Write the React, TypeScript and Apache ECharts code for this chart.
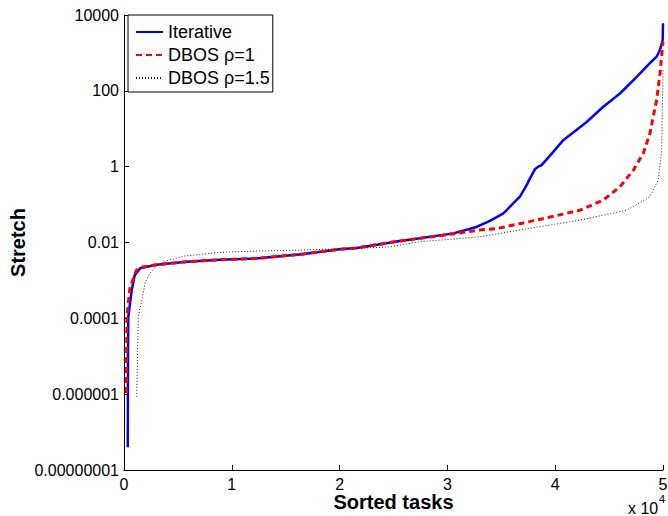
import React, { useEffect, useRef } from "react";
import * as echarts from "echarts";

const xTicks = [0, 10000, 20000, 30000, 40000, 50000];
const seriesNames = ["Iterative", "DBOS ρ=1", "DBOS ρ=1.5"];

const iterTasks = [350, 370, 400, 714, 1000, 1500, 3000, 5800, 8900, 12200, 16500, 20000, 21600, 25600, 27450, 30550, 32700, 33950, 35200, 36100, 36730, 37350, 37660, 38120, 38430, 38740, 39820, 40750, 42920, 44460, 46010, 47560, 48790, 49410, 49720, 49970, 50000];
const iterStretch = [4e-8, 1e-5, 1.1e-4, 5.5e-4, 1.38e-3, 2.1e-3, 2.6e-3, 3.1e-3, 3.5e-3, 3.8e-3, 4.9e-3, 6.6e-3, 7.2e-3, 0.011, 0.0129, 0.0174, 0.0257, 0.0372, 0.0589, 0.107, 0.162, 0.324, 0.49, 0.85, 1.0, 1.1, 2.45, 5.0, 15.1, 38, 85, 234, 537, 794, 1200, 2190, 6030];

const rho1Tasks = [220, 240, 270, 550, 1150, 1500, 3000, 5800, 8900, 12200, 16500, 20000, 21600, 25600, 27450, 29300, 33000, 34600, 38280, 42300, 44460, 46010, 47250, 48170, 48790, 49100, 49410, 49720, 50000];
const rho1Stretch = [1.07e-6, 1e-5, 1.1e-4, 6.3e-4, 1.86e-3, 2.2e-3, 2.6e-3, 3.1e-3, 3.5e-3, 3.8e-3, 4.9e-3, 6.6e-3, 7.2e-3, 0.011, 0.0129, 0.0151, 0.0214, 0.0234, 0.039, 0.071, 0.132, 0.295, 0.81, 2.24, 7.6, 21, 57, 288, 2000];

const rho15Tasks = [1180, 1250, 1330, 1650, 1950, 2400, 3000, 4000, 5600, 8900, 12800, 16200, 20000, 24600, 27450, 33020, 36730, 42300, 46630, 48790, 49560, 49880, 50000];
const rho15Stretch = [8.5e-7, 1e-5, 1.1e-4, 3.0e-4, 8.5e-4, 1.55e-3, 2.4e-3, 3.3e-3, 4.4e-3, 5.5e-3, 6.0e-3, 6.3e-3, 6.8e-3, 7.6e-3, 0.0105, 0.0141, 0.0214, 0.039, 0.071, 0.162, 0.45, 2.75, 350];

const pairs = (xs: number[], ys: number[]) => xs.map((x, i) => [x, ys[i]]);

const FONT = "Liberation Sans, Arial, Helvetica, sans-serif";

export default function App() {
  const ref = useRef<HTMLDivElement>(null);
  useEffect(() => {
    if (!ref.current) return;
    const chart = echarts.init(ref.current, undefined, { renderer: "svg" });
    const lineCommon = { type: "line", showSymbol: false, symbol: "none" };
    chart.setOption({
      animation: false,
      backgroundColor: "#fff",
      textStyle: { fontFamily: FONT },
      grid: { left: 124, right: 5, top: 15, bottom: 46, outerBoundsMode: "none", containLabel: false },
      legend: {
        data: seriesNames,
        orient: "vertical",
        left: 128,
        top: 15,
        padding: [8, 3, 5, 7],
        itemGap: 5,
        itemWidth: 27,
        itemHeight: 14,
        itemStyle: { opacity: 0 },
        borderColor: "#000",
        borderWidth: 1,
        backgroundColor: "#fff",
        textStyle: { fontSize: 18, color: "#000", fontFamily: FONT },
      },
      xAxis: {
        type: "value",
        min: xTicks[0],
        max: xTicks[xTicks.length - 1],
        interval: 10000,
        name: "Sorted tasks",
        nameLocation: "middle",
        nameGap: 22,
        nameMoveOverlap: false,
        nameTextStyle: { fontSize: 20, fontWeight: "bold", color: "#000", fontFamily: FONT },
        axisLine: { lineStyle: { color: "#000", width: 1 } },
        axisTick: { inside: true, length: 5, lineStyle: { color: "#000" } },
        axisLabel: { color: "#000", fontSize: 16, margin: 6, formatter: (v: number) => String(v / 10000) },
        splitLine: { show: false },
      },
      yAxis: {
        type: "log",
        logBase: 10,
        min: 1e-8,
        max: 1e4,
        interval: 2,
        name: "Stretch",
        nameLocation: "middle",
        nameGap: 96,
        nameMoveOverlap: false,
        nameTextStyle: { fontSize: 20, fontWeight: "bold", color: "#000", fontFamily: FONT },
        axisLine: { show: true, lineStyle: { color: "#000", width: 1 } },
        axisTick: { show: true, inside: true, length: 5, lineStyle: { color: "#000" } },
        minorTick: { show: false },
        axisLabel: {
          color: "#000",
          fontSize: 16,
          margin: 5,
          formatter: (v: number) => {
            if (v >= 1) return String(Math.round(v));
            const d = -Math.round(Math.log10(v));
            return v.toFixed(d);
          },
        },
        splitLine: { show: false },
      },
      graphic: [
        { type: "text", left: 628, top: 500, style: { text: "x 10", font: `16px ${FONT}`, fill: "#000" } },
        { type: "text", left: 659, top: 493, style: { text: "4", font: `11px ${FONT}`, fill: "#000" } },
      ],
      series: [
        {
          ...lineCommon,
          name: seriesNames[0],
          data: pairs(iterTasks, iterStretch),
          lineStyle: { color: "#0000ff", width: 2.5 },
          itemStyle: { color: "#0000ff" },
        },
        {
          ...lineCommon,
          name: seriesNames[1],
          data: pairs(rho1Tasks, rho1Stretch),
          lineStyle: { color: "#ff0000", width: 3, type: [6, 4] },
          itemStyle: { color: "#ff0000" },
        },
        {
          ...lineCommon,
          name: seriesNames[2],
          data: pairs(rho15Tasks, rho15Stretch),
          lineStyle: { color: "#222", width: 1, type: [1, 2] },
          itemStyle: { color: "#222" },
        },
      ],
    });
    return () => chart.dispose();
  }, []);
  return <div ref={ref} style={{ position: "fixed", left: 0, top: 0, width: 668, height: 516 }} />;
}
